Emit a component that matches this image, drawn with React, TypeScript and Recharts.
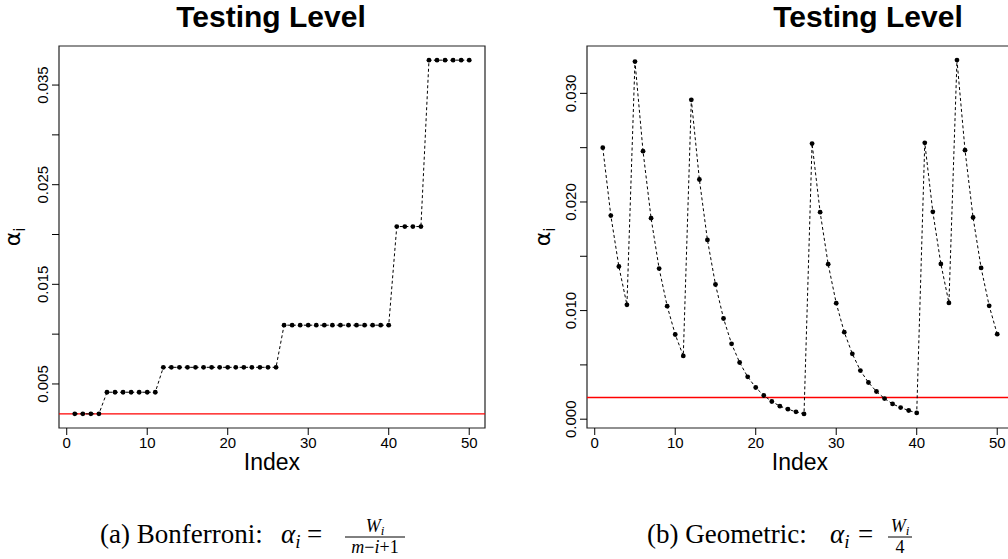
import React from 'react';
import { LineChart, Line, XAxis, YAxis, ReferenceLine, ReferenceArea } from 'recharts';

// ---------- data ----------
const indexValues = [
  1, 2, 3, 4, 5, 6, 7, 8, 9, 10,
  11, 12, 13, 14, 15, 16, 17, 18, 19, 20,
  21, 22, 23, 24, 25, 26, 27, 28, 29, 30,
  31, 32, 33, 34, 35, 36, 37, 38, 39, 40,
  41, 42, 43, 44, 45, 46, 47, 48, 49, 50,
];

const bonferroniLevels = [
  0.002, 0.002, 0.002, 0.002,
  0.00417, 0.00417, 0.00417, 0.00417, 0.00417, 0.00417, 0.00417,
  0.00667, 0.00667, 0.00667, 0.00667, 0.00667, 0.00667, 0.00667, 0.00667,
  0.00667, 0.00667, 0.00667, 0.00667, 0.00667, 0.00667, 0.00667,
  0.0109, 0.0109, 0.0109, 0.0109, 0.0109, 0.0109, 0.0109,
  0.0109, 0.0109, 0.0109, 0.0109, 0.0109, 0.0109, 0.0109,
  0.0208, 0.0208, 0.0208, 0.0208,
  0.0375, 0.0375, 0.0375, 0.0375, 0.0375, 0.0375,
];

const geometricLevels = [
  0.025, 0.01875, 0.01406, 0.01053,
  0.03293, 0.02468, 0.01851, 0.01387, 0.01041, 0.0078, 0.00583,
  0.0294, 0.02207, 0.01651, 0.0124, 0.00927, 0.00694, 0.00522, 0.0039,
  0.00292, 0.00218, 0.00163, 0.0012, 0.00092, 0.00068, 0.00049,
  0.02538, 0.01906, 0.01427, 0.01068, 0.00801, 0.00602, 0.00448,
  0.00338, 0.00255, 0.0019, 0.00141, 0.00107, 0.0008, 0.00058,
  0.02545, 0.01909, 0.0143, 0.01071,
  0.03306, 0.02477, 0.01857, 0.01393, 0.01044, 0.00783,
];

const targetLevel = 0.002;

const xTicks = [0, 10, 20, 30, 40, 50];
const xDomain: [number, number] = [-0.96, 51.96];

const leftYTicks = [0.005, 0.01, 0.015, 0.02, 0.025, 0.03, 0.035];
const leftYLabels = [0.005, 0.015, 0.025, 0.035];
const leftYDomain: [number, number] = [0.00058, 0.03892];

const rightYTicks = [0, 0.005, 0.01, 0.015, 0.02, 0.025, 0.03];
const rightYLabels = [0, 0.01, 0.02, 0.03];
const rightYDomain: [number, number] = [-0.00081, 0.03436];

const panelTitle = 'Testing Level';
const xLabel = 'Index';

const leftData = indexValues.map((x, i) => ({ x, a: bonferroniLevels[i] }));
const rightData = indexValues.map((x, i) => ({ x, a: geometricLevels[i] }));

const SANS = '"Liberation Sans", Arial, Helvetica, sans-serif';
const SERIF = '"Liberation Serif", "Times New Roman", serif';

const makeYTick = (labels: number[]) => (props: any) => {
  const { x, y, payload } = props;
  const v = payload.value;
  const show = labels.some((l) => Math.abs(l - v) < 1e-9);
  if (!show) return <g />;
  const bx = x - 1.5;
  return (
    <text
      x={bx}
      y={y}
      transform={`rotate(-90, ${bx}, ${y})`}
      textAnchor="middle"
      fontFamily={SANS}
      fontSize={15}
      fill="#000"
    >
      {v.toFixed(3)}
    </text>
  );
};

const alphaLabel = (bx: number) => (props: any) => {
  const vb = props.viewBox || {};
  const cy = (vb.y ?? 0) + (vb.height ?? 0) / 2;
  return (
    <text
      x={bx}
      y={cy}
      transform={`rotate(-90, ${bx}, ${cy})`}
      textAnchor="middle"
      fontFamily='"DejaVu Sans", sans-serif'
      fontSize={22}
      fill="#000"
    >
      α
      <tspan fontSize={15} dy={5}>i</tspan>
    </text>
  );
};

const indexLabel = (props: any) => {
  const vb = props.viewBox || {};
  const cx = (vb.x ?? 0) + (vb.width ?? 0) / 2;
  const y = (vb.y ?? 0) + 42;
  return (
    <text x={cx} y={y} textAnchor="middle" fontFamily={SANS} fontSize={23} fill="#000">
      {xLabel}
    </text>
  );
};

type PanelProps = {
  data: { x: number; a: number }[];
  width: number;
  marginRight: number;
  yWidth: number;
  yTicks: number[];
  yLabels: number[];
  yDomain: [number, number];
  alphaX: number;
};

const Panel = ({ data, width, marginRight, yWidth, yTicks, yLabels, yDomain, alphaX }: PanelProps) => (
  <LineChart
    width={width}
    height={480}
    data={data}
    margin={{ top: 46, right: marginRight, bottom: 12, left: 0 }}
  >
    <XAxis
      dataKey="x"
      type="number"
      domain={xDomain}
      ticks={xTicks}
      allowDataOverflow
      axisLine={false}
      tickLine={{ stroke: '#000' }}
      tickSize={7}
      tickMargin={2}
      height={40}
      tick={{ fontFamily: SANS, fontSize: 15, fill: '#000' }}
      label={indexLabel}
    />
    <YAxis
      type="number"
      domain={yDomain}
      ticks={yTicks}
      allowDataOverflow
      axisLine={false}
      tickLine={{ stroke: '#000' }}
      tickSize={7}
      tickMargin={2}
      width={yWidth}
      tick={makeYTick(yLabels)}
      label={alphaLabel(alphaX)}
    />
    <ReferenceLine y={targetLevel} stroke="#ff0000" strokeWidth={1.3} />
    <Line
      type="linear"
      dataKey="a"
      stroke="#000"
      strokeWidth={1}
      strokeDasharray="3 2.5"
      dot={{ r: 2.4, fill: '#000', stroke: 'none' }}
      activeDot={false}
      isAnimationActive={false}
    />
    <ReferenceArea
      x1={xDomain[0]}
      x2={xDomain[1]}
      y1={yDomain[0]}
      y2={yDomain[1]}
      fill="none"
      stroke="#222"
      strokeWidth={1.2}
      ifOverflow="extendDomain"
    />
  </LineChart>
);

export default function App() {
  return (
    <div
      style={{
        position: 'absolute',
        left: 0,
        top: 0,
        width: 1008,
        height: 559,
        overflow: 'hidden',
        background: '#fff',
      }}
    >
      <div style={{ position: 'absolute', left: 0, top: 0 }}>
        <Panel
          data={leftData}
          width={500}
          marginRight={15}
          yWidth={59}
          yTicks={leftYTicks}
          yLabels={leftYLabels}
          yDomain={leftYDomain}
          alphaX={20}
        />
      </div>
      <div style={{ position: 'absolute', left: 500, top: 0 }}>
        <Panel
          data={rightData}
          width={520}
          marginRight={7}
          yWidth={87}
          yTicks={rightYTicks}
          yLabels={rightYLabels}
          yDomain={rightYDomain}
          alphaX={50}
        />
      </div>
      <svg
        width={1008}
        height={559}
        style={{ position: 'absolute', left: 0, top: 0, pointerEvents: 'none' }}
      >
        <text x={271} y={27} textAnchor="middle" fontFamily={SANS} fontWeight="bold" fontSize={30} fill="#000">
          {panelTitle}
        </text>
        <text x={868} y={27} textAnchor="middle" fontFamily={SANS} fontWeight="bold" fontSize={30} fill="#000">
          {panelTitle}
        </text>

        {/* caption (a) */}
        <text x={100} y={543} fontFamily={SERIF} fontSize={27} fill="#000">(a) Bonferroni:</text>
        <text x={281} y={543} fontFamily={SERIF} fontSize={27} fontStyle="italic" fill="#000">
          α<tspan fontSize={19} dy={5}>i</tspan>
        </text>
        <text x={307} y={543} fontFamily={SERIF} fontSize={27} fill="#000">=</text>
        <text x={375} y={532} textAnchor="middle" fontFamily={SERIF} fontSize={18} fontStyle="italic" fill="#000">
          W<tspan fontSize={13} dy={3}>i</tspan>
        </text>
        <line x1={345} x2={405} y1={537} y2={537} stroke="#000" strokeWidth={1} />
        <text x={375} y={553} textAnchor="middle" fontFamily={SERIF} fontSize={18} fill="#000">
          <tspan fontStyle="italic">m</tspan>−<tspan fontStyle="italic">i</tspan>+1
        </text>

        {/* caption (b) */}
        <text x={647} y={543} fontFamily={SERIF} fontSize={27} fill="#000">(b) Geometric:</text>
        <text x={830} y={543} fontFamily={SERIF} fontSize={27} fontStyle="italic" fill="#000">
          α<tspan fontSize={19} dy={5}>i</tspan>
        </text>
        <text x={858} y={543} fontFamily={SERIF} fontSize={27} fill="#000">=</text>
        <text x={900} y={532} textAnchor="middle" fontFamily={SERIF} fontSize={18} fontStyle="italic" fill="#000">
          W<tspan fontSize={13} dy={3}>i</tspan>
        </text>
        <line x1={888} x2={912} y1={537} y2={537} stroke="#000" strokeWidth={1} />
        <text x={900} y={553} textAnchor="middle" fontFamily={SERIF} fontSize={18} fill="#000">4</text>
      </svg>
    </div>
  );
}
